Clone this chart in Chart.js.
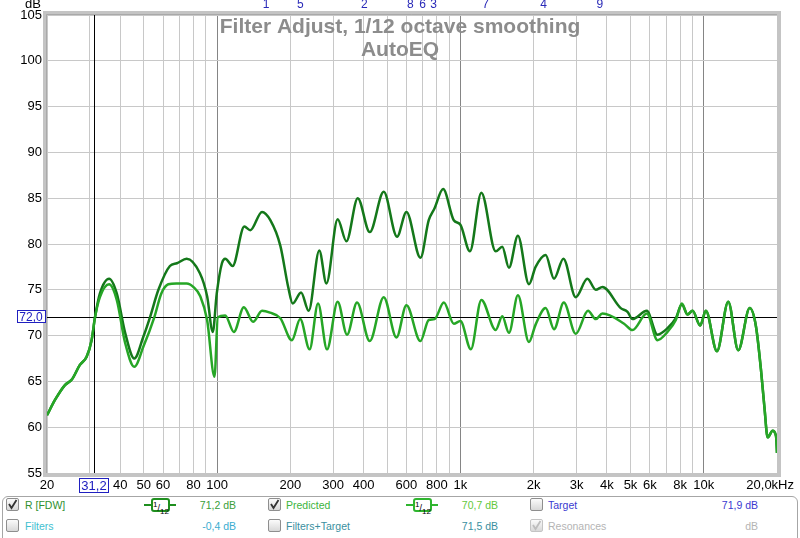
<!DOCTYPE html>
<html>
<head>
<meta charset="utf-8">
<script src="https://cdn.jsdelivr.net/npm/chart.js@4.4.1/dist/chart.umd.min.js"></script>
<style>
  body { margin: 0; background: #fff; width: 800px; height: 538px; overflow: hidden; position: relative; font-family: "Liberation Sans", Arial, sans-serif; }
  #chart { position: absolute; left: 0; top: 0; }
  #panel { position: absolute; left: 2px; top: 496px; width: 794px; height: 50px; border: 1px solid #a6a6a6; border-radius: 6px; }
  .t { position: absolute; font-size: 10.5px; white-space: nowrap; line-height: 12px; }
  .r { text-align: right; }
  .cb { position: absolute; width: 11px; height: 11px; border: 1px solid #8e8e8e; border-radius: 2px; background: linear-gradient(#fbfbfb, #d8d8d8); }
  .cb svg { position: absolute; left: 0; top: 0; }
  .sm { position: absolute; width: 32px; height: 14px; }
  .sm .ln { position: absolute; left: 0; top: 6px; width: 32px; height: 2px; }
  .sm .bx { position: absolute; left: 7px; top: 0; width: 15px; height: 10px; border: 2px solid; border-radius: 3px; background: #fff; font-size: 9px; line-height: 10px; color: #000; text-align: center; }
</style>
</head>
<body>
<canvas id="chart" width="800" height="496"></canvas>
<div id="panel"></div>

<div class="cb" style="left:6px;top:498px"><svg width="11" height="11"><polyline points="2,5 4.5,9 9.5,1" fill="none" stroke="#333" stroke-width="1.8"/></svg></div>
<div class="t" style="left:25px;top:499px;color:#2f8f2f">R [FDW]</div>
<div class="sm" style="left:144px;top:498px"><div class="ln" style="background:#1f8f1f"></div><div class="bx" style="border-color:#1f8f1f"><sup style="font-size:8px">1</sup>/<sub style="font-size:8px">12</sub></div></div>
<div class="t r" style="left:190px;top:499px;width:46px;color:#3a9e3a">71,2 dB</div>
<div class="cb" style="left:268px;top:498px"><svg width="11" height="11"><polyline points="2,5 4.5,9 9.5,1" fill="none" stroke="#333" stroke-width="1.8"/></svg></div>
<div class="t" style="left:286px;top:499px;color:#3cb43c">Predicted</div>
<div class="sm" style="left:406px;top:498px"><div class="ln" style="background:#2fb52f"></div><div class="bx" style="border-color:#2fb52f"><sup style="font-size:8px">1</sup>/<sub style="font-size:8px">12</sub></div></div>
<div class="t r" style="left:452px;top:499px;width:46px;color:#62c83c">70,7 dB</div>
<div class="cb" style="left:530px;top:498px"></div>
<div class="t" style="left:548px;top:499px;color:#3a3ad0">Target</div>
<div class="t r" style="left:712px;top:499px;width:46px;color:#3a3ad0">71,9 dB</div>

<div class="cb" style="left:6px;top:519px"></div>
<div class="t" style="left:25px;top:520px;color:#3ec0d0">Filters</div>
<div class="t r" style="left:190px;top:520px;width:46px;color:#3aacd0">-0,4 dB</div>
<div class="cb" style="left:268px;top:519px"></div>
<div class="t" style="left:286px;top:520px;color:#3a8fa0">Filters+Target</div>
<div class="t r" style="left:452px;top:520px;width:46px;color:#3a8fa0">71,5 dB</div>
<div class="cb" style="left:530px;top:519px;border-color:#c4c4c4"><svg width="11" height="11"><polyline points="2,5 4.5,9 9.5,1" fill="none" stroke="#bdbdbd" stroke-width="1.8"/></svg></div>
<div class="t" style="left:548px;top:520px;color:#b4b4b4">Resonances</div>
<div class="t r" style="left:712px;top:520px;width:46px;color:#b4b4b4">dB</div>

<script>
// R [FDW] measurement, 1/12 oct smoothed (Hz / dB)
const rFreq = [20, 21.6, 23.7, 25.3, 27.3, 29.1, 30.5, 31.5, 33, 36, 38.7, 41.9, 45.7, 49.8, 53, 57.4, 64, 68.4, 75, 85, 91, 96,
  99.7, 104.7, 108, 115.8, 129.4, 136.9, 153, 165.5, 182, 196, 204.5, 221.4, 237.9, 263, 281.4, 313, 340, 378.5, 424, 484,
  549, 600, 685, 741, 783, 849, 939, 1000, 1094, 1219, 1396, 1486, 1583, 1723, 1913, 2037, 2240, 2425, 2650, 2978, 3326,
  3600, 3834, 4559, 4861, 5094, 5835, 6456, 7096, 7678, 8130, 8580, 8995, 9665, 10200, 11330, 12610, 13860, 15450, 16390,
  17180, 17740, 18310, 19190, 19820, 20000];
const rDb = [61.3, 63.0, 64.6, 65.2, 66.8, 67.7, 69.5, 72.0, 74.6, 76.2, 74.6, 70.3, 67.5, 69.9, 72.0, 75.0, 77.6, 77.9, 78.4, 76.8, 74.3, 70.4,
  74.6, 77.9, 78.4, 77.6, 81.9, 81.5, 83.5, 82.6, 79.8, 75.3, 73.5, 74.7, 72.7, 79.3, 75.7, 82.7, 80.3, 85.0, 81.3, 85.7,
  80.8, 83.5, 78.5, 82.6, 83.9, 86.0, 82.6, 82.1, 79.2, 85.6, 79.2, 79.7, 77.4, 80.9, 75.6, 77.5, 78.8, 76.2, 78.4, 74.2, 76.2,
  75.0, 75.3, 73.0, 72.6, 71.8, 72.7, 70.1, 70.8, 71.9, 73.4, 72.3, 72.7, 71.1, 72.7, 68.3, 73.7, 68.4, 73.0, 71.0,
  66.3, 62.3, 58.9, 59.6, 59.0, 57.2];

// Predicted response after filters
const predFreq = [20, 21.6, 23.7, 25.3, 27.3, 29.1, 30.5, 31.5, 33, 36, 38.7, 41.9, 45.7, 49.8, 55.2, 59, 63, 68, 75, 80, 85.3, 91,
  97.6, 100.7, 108, 117.2, 128.8, 140.6, 153, 165, 182, 203, 219.6, 240, 260, 283, 313, 342, 376, 424, 484, 546, 600, 685,
  741, 783, 855, 939, 1000, 1104, 1219, 1396, 1486, 1583, 1723, 1913, 2037, 2240, 2425, 2660, 2978, 3345, 3600, 3834,
  4705, 5094, 5835, 6456, 7096, 7678, 8130, 8580, 8995, 9665, 10200, 11330, 12610, 13860, 15450, 16390, 17180, 17740,
  18310, 19190, 19820, 20000];
const predDb = [61.3, 63.0, 64.6, 65.2, 66.8, 67.7, 69.5, 72.0, 74.2, 75.6, 73.9, 69.2, 66.6, 68.8, 72.0, 74.6, 75.6, 75.7, 75.7, 75.3, 74.3, 71.7,
  65.5, 72.0, 72.2, 70.4, 73.1, 71.5, 72.7, 72.5, 71.9, 69.5, 71.8, 68.5, 73.5, 68.5, 73.7, 70.1, 73.6, 69.4, 74.2, 69.8, 73.3, 69.4,
  71.7, 71.8, 73.6, 71.3, 71.6, 68.5, 73.9, 70.6, 72.1, 70.3, 74.4, 69.3, 71.2, 73.0, 70.7, 73.6, 70.2, 72.7, 71.8, 72.4,
  71.3, 70.6, 72.4, 69.5, 70.4, 71.7, 73.5, 72.3, 72.7, 71.1, 72.7, 68.3, 73.7, 68.4, 73.0, 71.0, 66.3, 62.3,
  58.9, 59.6, 59.0, 57.2];

const gridFreqs = [20, 30, 40, 50, 60, 70, 80, 90, 100, 200, 300, 400, 500, 600, 700, 800, 900, 1000,
  2000, 3000, 4000, 5000, 6000, 7000, 8000, 9000, 10000, 20000];
const xLabelFreqs = [20, 40, 50, 60, 80, 100, 200, 300, 400, 600, 800, 1000, 2000, 3000, 4000, 5000, 6000, 8000, 10000];
const xLabelTexts = ['20', '40', '50', '60', '80', '100', '200', '300', '400', '600', '800', '1k', '2k', '3k', '4k', '5k', '6k', '8k', '10k'];
const xEndLabel = '20,0kHz';

// filter centre markers along the top
const markerFreqs = [159, 220, 403, 623, 699, 776, 1270, 2199, 3738];
const markerLabels = ['1', '5', '2', '8', '6', '3', '7', '4', '9'];

const cursorFreq = 31.2;
const cursorDb = 72.0;
const titleLines = ['Filter Adjust, 1/12 octave smoothing', 'AutoEQ'];

const FONT = '"Liberation Sans", Arial, sans-serif';

function boxedLabel(ctx, text, cx, cy, w, h) {
  ctx.fillStyle = '#fff';
  ctx.fillRect(cx - w / 2, cy - h / 2, w, h);
  ctx.strokeStyle = '#2020c0';
  ctx.lineWidth = 1;
  ctx.strokeRect(Math.round(cx - w / 2) + 0.5, Math.round(cy - h / 2) + 0.5, w, h);
  ctx.fillStyle = '#2020c0';
  ctx.textAlign = 'center';
  ctx.textBaseline = 'middle';
  ctx.fillText(text, cx, cy + 1);
}

const extras = {
  id: 'extras',
  beforeDatasetsDraw(chart) {
    const { ctx, chartArea: a, scales: { x, y } } = chart;
    const cx = Math.round(x.getPixelForValue(cursorFreq)) + 0.5;
    const cy = Math.round(y.getPixelForValue(cursorDb)) + 0.5;
    ctx.save();
    ctx.strokeStyle = '#000';
    ctx.lineWidth = 1;
    ctx.beginPath();
    ctx.moveTo(cx, a.top); ctx.lineTo(cx, a.bottom);
    ctx.moveTo(a.left, cy); ctx.lineTo(a.right, cy);
    ctx.stroke();
    ctx.restore();
  },
  afterDraw(chart) {
    const { ctx, chartArea: a, scales: { x, y } } = chart;
    ctx.save();
    // frame
    ctx.strokeStyle = '#c4c4c4';
    ctx.lineWidth = 4;
    ctx.strokeRect(a.left - 2, a.top - 2, a.right - a.left + 4, a.bottom - a.top + 4);
    ctx.strokeStyle = '#a9a9a9';
    ctx.lineWidth = 1;
    ctx.beginPath();
    ctx.moveTo(a.left - 0.5, a.bottom); ctx.lineTo(a.left - 0.5, a.top - 0.5); ctx.lineTo(a.right, a.top - 0.5);
    ctx.stroke();

    // title
    ctx.fillStyle = '#8c8c8c';
    ctx.font = 'bold 21px ' + FONT;
    ctx.textAlign = 'center';
    ctx.textBaseline = 'alphabetic';
    ctx.fillText(titleLines[0], 400, 33);
    ctx.fillText(titleLines[1], 400, 56);

    // markers
    ctx.fillStyle = '#2a2ab8';
    ctx.font = '12px ' + FONT;
    ctx.textBaseline = 'middle';
    markerFreqs.forEach((f, i) => ctx.fillText(markerLabels[i], x.getPixelForValue(f), 5));

    // unit
    ctx.fillStyle = '#000';
    ctx.font = '13px ' + FONT;
    ctx.fillText('dB', 33, 4);

    // last x label, pulled in from the edge
    ctx.textAlign = 'right';
    ctx.fillText(xEndLabel, 794, 485);

    // cursor readouts
    ctx.textAlign = 'center';
    ctx.font = '13px ' + FONT;
    boxedLabel(ctx, '31,2', x.getPixelForValue(cursorFreq), 485, 29, 14);
    ctx.font = '12px ' + FONT;
    boxedLabel(ctx, '72,0', 31, y.getPixelForValue(cursorDb) - 1, 28, 12);
    ctx.restore();
  }
};

new Chart(document.getElementById('chart'), {
  type: 'line',
  data: {
    datasets: [
      {
        label: 'Predicted',
        data: predFreq.map((f, i) => ({ x: f, y: predDb[i] })),
        borderColor: '#26a626',
        borderWidth: 2.5,
        pointRadius: 0,
        cubicInterpolationMode: 'monotone'
      },
      {
        label: 'R [FDW]',
        data: rFreq.map((f, i) => ({ x: f, y: rDb[i] })),
        borderColor: '#14781a',
        borderWidth: 2.5,
        pointRadius: 0,
        cubicInterpolationMode: 'monotone'
      }
    ]
  },
  options: {
    responsive: false,
    animation: false,
    devicePixelRatio: 1,
    layout: { padding: { top: 15, right: 23, left: 0, bottom: 0 } },
    plugins: { legend: { display: false }, tooltip: { enabled: false } },
    scales: {
      x: {
        type: 'logarithmic',
        min: 20,
        max: 20000,
        afterFit(scale) { scale.height = 23; },
        afterBuildTicks(scale) { scale.ticks = gridFreqs.map(v => ({ value: v })); },
        grid: {
          drawTicks: false,
          color: c => [100, 1000, 10000].includes(c.tick && c.tick.value) ? '#858585' : '#c8c8c8'
        },
        border: { display: false },
        ticks: {
          autoSkip: false,
          maxRotation: 0,
          padding: 5,
          color: '#000',
          font: { family: FONT, size: 13 },
          callback(v, i, ticks) {
            const k = xLabelFreqs.indexOf(ticks[i].value);
            return k >= 0 ? xLabelTexts[k] : '';
          }
        }
      },
      y: {
        min: 55,
        max: 105,
        afterFit(scale) { scale.width = 47; },
        grid: { drawTicks: false, color: '#c8c8c8' },
        border: { display: false },
        ticks: {
          stepSize: 5,
          padding: 5,
          color: '#000',
          font: { family: FONT, size: 13 }
        }
      }
    }
  },
  plugins: [extras]
});
</script>
</body>
</html>
